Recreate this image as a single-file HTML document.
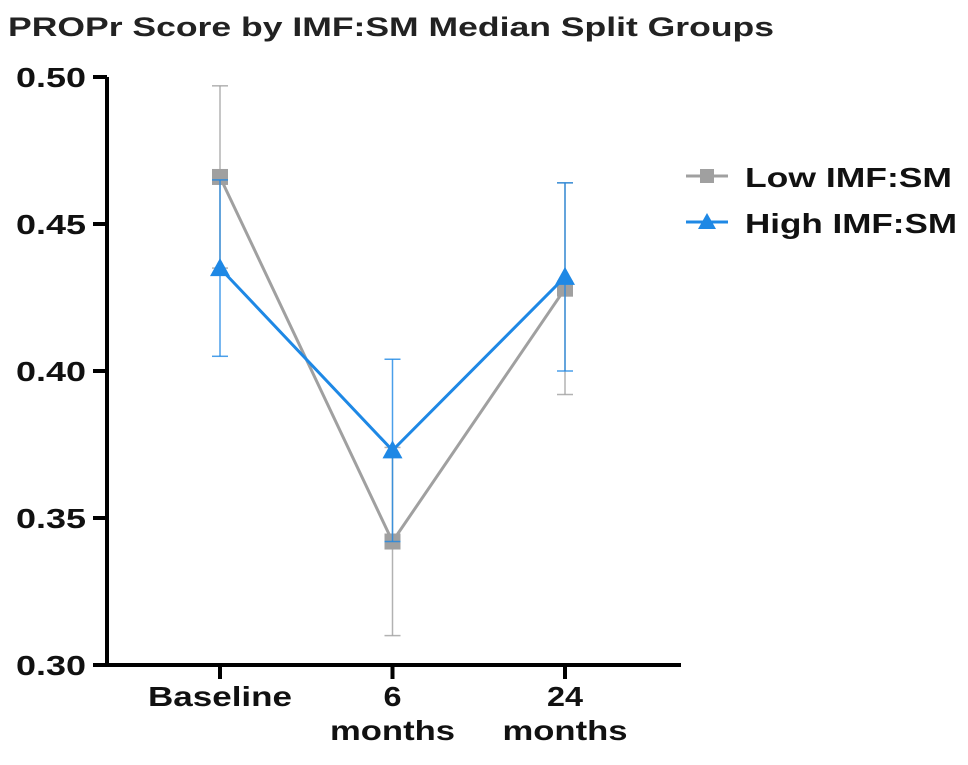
<!DOCTYPE html>
<html><head><meta charset="utf-8"><style>
body{margin:0;background:#fff;width:968px;height:760px;overflow:hidden;font-family:"Liberation Sans",sans-serif}
</style></head><body>
<svg id="chart" width="968" height="760" xmlns="http://www.w3.org/2000/svg">
<text x="8" y="36" font-size="27" font-weight="bold" fill="#222" textLength="766" lengthAdjust="spacingAndGlyphs">PROPr Score by IMF:SM Median Split Groups</text>
<g id="axes"></g><g id="series"></g>
<g>
<g>
<line x1="686" y1="176" x2="728" y2="176" stroke="#a0a0a0" stroke-width="3"/><rect x="700" y="169" width="14" height="14" fill="#a0a0a0"/>
<text x="745" y="187" font-size="28" font-weight="bold" fill="#111" textLength="207" lengthAdjust="spacingAndGlyphs">Low IMF:SM</text></g>
<g>
<line x1="686" y1="222" x2="728" y2="222" stroke="#1e88e5" stroke-width="3"/><polygon points="707,213 716,229 698,229" fill="#1e88e5"/>
<text x="745" y="233" font-size="28" font-weight="bold" fill="#111" textLength="212" lengthAdjust="spacingAndGlyphs">High IMF:SM</text></g>
</g>
</svg>
<script>
const categories=["Baseline","6 months","24 months"];
const lowMean=[0.466,0.342,0.428];
const lowErr=[0.031,0.032,0.036];
const highMean=[0.435,0.373,0.432];
const highErr=[0.030,0.031,0.032];
const yTicks=[0.30,0.35,0.40,0.45,0.50];
const NS="http://www.w3.org/2000/svg";
const y=v=>665-(v-0.30)/0.20*588;
const x=i=>220+i*172.5;
function mk(t,a,p){const e=document.createElementNS(NS,t);for(const k in a)e.setAttribute(k,a[k]);p.appendChild(e);return e;}
const ax=document.getElementById('axes');
const yl=mk('line',{x1:107,y1:77,x2:107,y2:667,stroke:'#000','stroke-width':4},ax);


const xl=mk('line',{x1:105,y1:665,x2:681,y2:665,stroke:'#000','stroke-width':4},ax);


yTicks.forEach(v=>{mk('line',{x1:93,y1:y(v),x2:107,y2:y(v),stroke:'#000','stroke-width':4},ax);
const t=mk('text',{x:86,y:y(v)+10,'font-size':28,'font-weight':'bold','text-anchor':'end',fill:'#111',textLength:70,lengthAdjust:'spacingAndGlyphs'},ax);t.textContent=v.toFixed(2);

});
categories.forEach((c,i)=>{mk('line',{x1:x(i),y1:665,x2:x(i),y2:679,stroke:'#000','stroke-width':4},ax);
const parts=c.split(' ');parts.forEach((p,j)=>{const w=p==='months'?125:p.length*18;const t=mk('text',{x:x(i),y:706+j*34,'font-size':28,'font-weight':'bold','text-anchor':'middle',fill:'#111',textLength:w,lengthAdjust:'spacingAndGlyphs'},ax);t.textContent=p;

});});
const sg=document.getElementById('series');
function series(mean,err,col,name,tri){
const g=mk('g',{},sg);


mean.forEach((m,i)=>{mk('line',{x1:x(i),y1:y(m-err[i]),x2:x(i),y2:y(m+err[i]),stroke:col,'stroke-width':1.5,opacity:0.8},g);
[m-err[i],m+err[i]].forEach(v=>mk('line',{x1:x(i)-8,y1:y(v),x2:x(i)+8,y2:y(v),stroke:col,'stroke-width':1.5,opacity:0.8},g));});
mk('polyline',{points:mean.map((m,i)=>x(i)+','+y(m)).join(' '),fill:'none',stroke:col,'stroke-width':3},g);
mean.forEach((m,i)=>{let p;if(tri)p=mk('polygon',{points:`${x(i)},${y(m)-10} ${x(i)+10},${y(m)+8} ${x(i)-10},${y(m)+8}`,fill:col},g);
else p=mk('rect',{x:x(i)-8,y:y(m)-8,width:16,height:16,fill:col},g);

});}
series(lowMean,lowErr,'#a0a0a0','series-low',false);
series(highMean,highErr,'#1e88e5','series-high',true);
</script>
</body></html>
